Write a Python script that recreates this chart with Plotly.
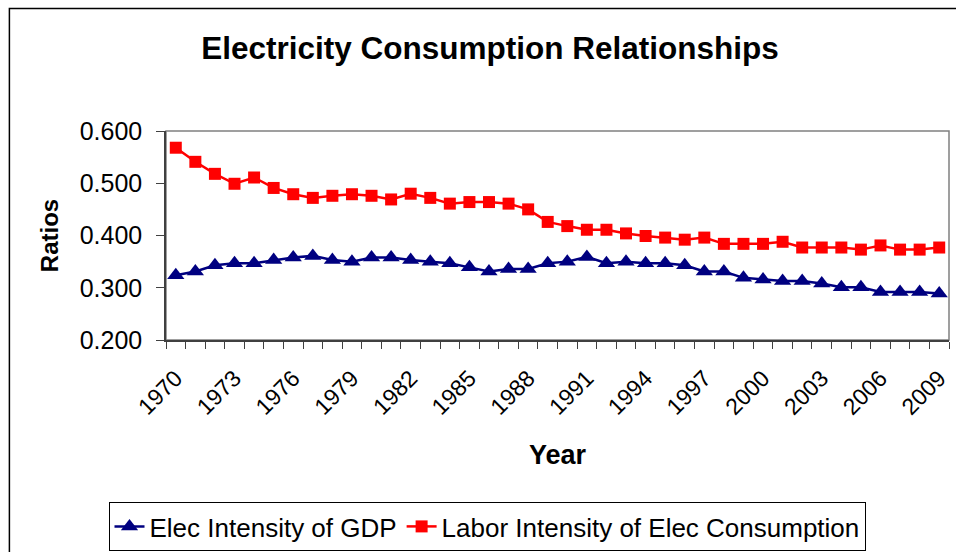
import plotly.graph_objects as go

years = list(range(1970, 2010))
elec_intensity_gdp = [
    0.324, 0.331, 0.343, 0.347, 0.347, 0.353, 0.358, 0.361, 0.353, 0.350,
    0.358, 0.358, 0.353, 0.350, 0.347, 0.339, 0.331, 0.336, 0.336, 0.347,
    0.350, 0.359, 0.347, 0.350, 0.347, 0.347, 0.343, 0.331, 0.331, 0.319,
    0.316, 0.313, 0.313, 0.308, 0.301, 0.301, 0.292, 0.292, 0.292, 0.289,
]
labor_intensity_elec = [
    0.568, 0.541, 0.518, 0.499, 0.511, 0.491, 0.479, 0.472, 0.476, 0.479,
    0.476, 0.469, 0.480, 0.472, 0.461, 0.464, 0.464, 0.461, 0.450, 0.426,
    0.418, 0.411, 0.411, 0.404, 0.399, 0.396, 0.392, 0.396, 0.384, 0.384,
    0.384, 0.388, 0.377, 0.377, 0.377, 0.373, 0.381, 0.373, 0.373, 0.377,
]
tick_years = list(range(1970, 2010, 3))
y_ticks = [0.2, 0.3, 0.4, 0.5, 0.6]

FONT = "Liberation Sans, Arial, sans-serif"

fig = go.Figure()
fig.add_trace(go.Scatter(
    x=years, y=elec_intensity_gdp, mode="lines+markers",
    name="Elec Intensity of GDP",
    line=dict(color="#000080", width=2.5),
    marker=dict(symbol="triangle-up", size=15, color="#000080"),
))
fig.add_trace(go.Scatter(
    x=years, y=labor_intensity_elec, mode="lines+markers",
    name="Labor Intensity of Elec Consumption",
    line=dict(color="#FF0000", width=2.5),
    marker=dict(symbol="square", size=12, color="#FF0000"),
))

fig.update_layout(
    width=956, height=552,
    margin=dict(l=166, r=5, t=131, b=212),
    paper_bgcolor="white", plot_bgcolor="white",
    font=dict(family=FONT, color="black"),
    title=dict(
        text="<b>Electricity Consumption Relationships</b>",
        font=dict(size=31.5, family=FONT, color="black"),
        x=490 / 956, xanchor="center", xref="container",
        y=1 - 48 / 552, yanchor="middle", yref="container",
    ),
    showlegend=True,
    legend=dict(
        orientation="h",
        xref="container", yref="container",
        x=487 / 956, xanchor="center",
        y=1 - 502 / 552, yanchor="top",
        bordercolor="black", borderwidth=1,
        font=dict(size=26, family=FONT, color="black"),
        bgcolor="white",
        itemwidth=30,
        tracegroupgap=0,
    ),
    shapes=[
        dict(type="rect", xref="paper", yref="paper",
             x0=0, x1=1, y0=0, y1=1,
             line=dict(color="#808080", width=1.5), layer="below"),
        dict(type="rect", xref="paper", yref="paper",
             x0=(9 - 166) / 785, x1=1.05,
             y0=-1.3, y1=(340 - 8.5) / 209,
             line=dict(color="black", width=1.5), layer="below"),
    ],
)

fig.update_xaxes(
    range=[1969.5, 2009.5],
    tickmode="array", tickvals=tick_years, ticktext=[str(y) for y in tick_years],
    tickangle=-45,
    ticks="", showgrid=False, zeroline=False,
    showline=True, linecolor="#404040", linewidth=1.5,
    tickfont=dict(size=23, family=FONT, color="black"),
    ticklabelstandoff=14,
    minor=dict(ticks="outside", tick0=1969.5, dtick=1, ticklen=7,
               tickcolor="#404040", tickwidth=1, showgrid=False),
    title=dict(text="<b>Year</b>", font=dict(size=27, family=FONT, color="black"),
               standoff=26),
)
fig.update_yaxes(
    range=[0.2, 0.6],
    tickmode="array", tickvals=y_ticks, ticktext=[f"{v:.3f}" for v in y_ticks],
    ticks="outside", ticklen=8, tickcolor="#404040", tickwidth=1,
    showgrid=False, zeroline=False,
    showline=True, linecolor="#404040", linewidth=1.5,
    tickfont=dict(size=25, family=FONT, color="black"),
    ticklabelstandoff=9,
    title=dict(text="<b>Ratios</b>", font=dict(size=24, family=FONT, color="black"),
               standoff=14),
)

fig.write_html(
    "out.html",
    config={"displayModeBar": False},
    post_script="document.body.style.margin='0px';document.body.style.padding='0px';",
)
